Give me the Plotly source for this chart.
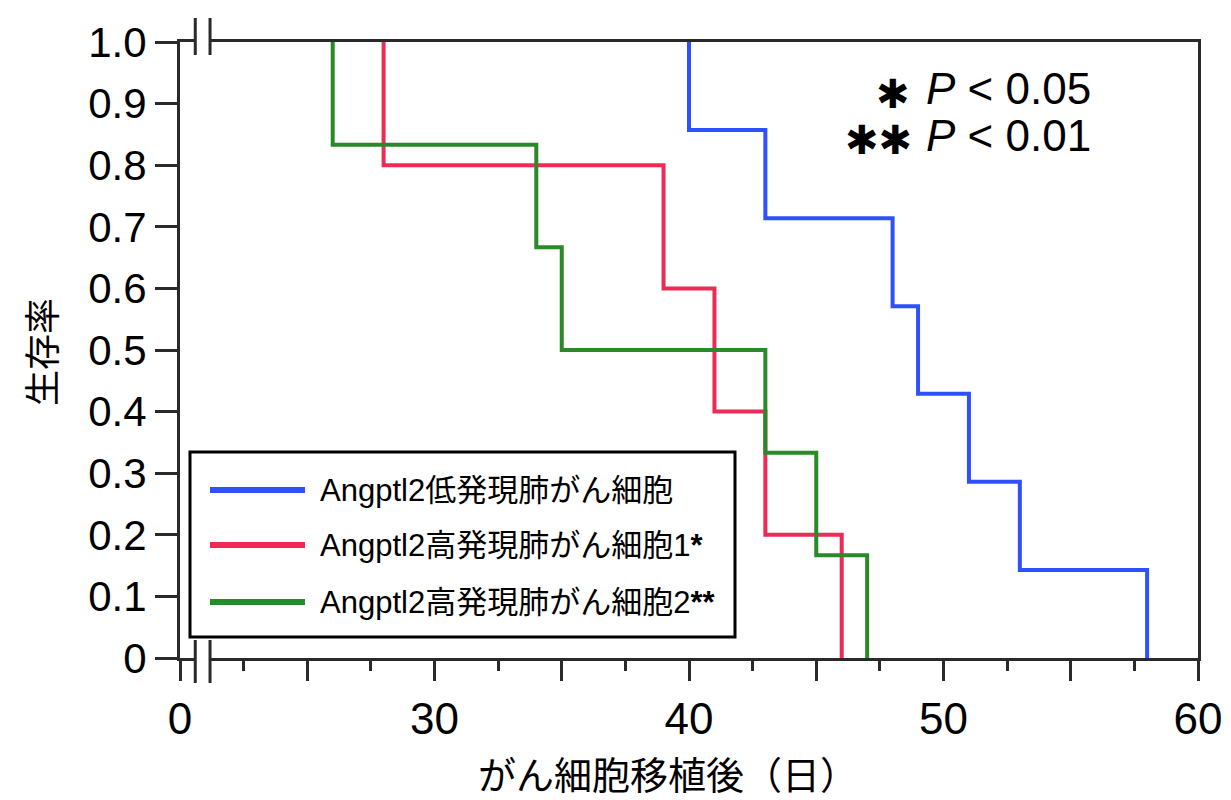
import plotly.graph_objects as go

# ---- data ----
series_names = ["Angptl2低発現肺がん細胞", "Angptl2高発現肺がん細胞1<b>*</b>", "Angptl2高発現肺がん細胞2<b>**</b>"]
blue_times = [40, 43, 48, 49, 51, 53, 58]
blue_surv = [0.857, 0.714, 0.571, 0.429, 0.286, 0.143, 0.0]
red_times = [28, 39, 41, 43, 46]
red_surv = [0.8, 0.6, 0.4, 0.2, 0.0]
green_times = [26, 34, 35, 43, 45, 47]
green_surv = [0.833, 0.667, 0.5, 0.333, 0.167, 0.0]

x_tickvals = [20, 25, 30, 35, 40, 45, 50, 55, 60]
x_ticktext = ["0", "", "30", "", "40", "", "50", "", "60"]
x_minor = [22.5, 27.5, 32.5, 37.5, 42.5, 47.5, 52.5, 57.5]
y_tickvals = [0, 0.1, 0.2, 0.3, 0.4, 0.5, 0.6, 0.7, 0.8, 0.9, 1.0]
y_ticktext = ["0", "0.1", "0.2", "0.3", "0.4", "0.5", "0.6", "0.7", "0.8", "0.9", "1.0"]

colors = ["#2f50ff", "#ee2a55", "#2a8a2a"]
FONT = "Liberation Sans, Arial, Noto Sans CJK JP, sans-serif"

fig = go.Figure()
for name, times, surv, col in zip(series_names, [blue_times, red_times, green_times],
                                  [blue_surv, red_surv, green_surv], colors):
    xs = [times[0]] + list(times)
    ys = [1.0] + list(surv)
    fig.add_trace(go.Scatter(x=xs, y=ys, mode="lines", line=dict(color=col, width=4, shape="hv"),
                             name=name, showlegend=False))

# page body has an 8px margin -> compensate so the frame lands at x 180..1198, y 42..658
OFF = 8
axis_col = "#2a2a2a"
fig.update_layout(
    width=1231, height=800,
    margin=dict(l=180 - OFF, r=33 + OFF, t=42 - OFF, b=142 + OFF),
    plot_bgcolor="white", paper_bgcolor="white",
    font=dict(family=FONT, color="black"),
    xaxis=dict(range=[20, 60], tickvals=x_tickvals, ticktext=x_ticktext, ticks="outside",
               ticklen=20, tickwidth=3, tickcolor=axis_col, showline=True, linewidth=3,
               linecolor=axis_col, mirror=True, showgrid=False, zeroline=False,
               tickfont=dict(size=44, family=FONT, color="black"),
               minor=dict(tickvals=x_minor, ticks="outside", ticklen=10, tickwidth=3, tickcolor=axis_col)),
    yaxis=dict(range=[0, 1], tickvals=y_tickvals, ticktext=y_ticktext, ticks="outside",
               ticklen=22, tickwidth=3, tickcolor=axis_col, showline=True, linewidth=3,
               linecolor=axis_col, mirror=True, showgrid=False, zeroline=False,
               tickfont=dict(size=42, family=FONT, color="black")),
)

def px2x(p):
    return (p - 180) / 1018.0

def px2y(q):
    return (658 - q) / 616.0

def note(text, px, py, size, family=FONT, xanchor="center", angle=0):
    return dict(text=text, x=px2x(px), y=px2y(py), xref="paper", yref="paper", xanchor=xanchor,
                yanchor="middle", textangle=angle, showarrow=False,
                font=dict(size=size, family=family, color="black"))

ann = []
# axis titles
ann.append(note("がん細胞移植後（日）", 668, 772, 38, "Noto Sans CJK JP"))
ann.append(note("生存率", 40, 352, 36, "Noto Sans CJK JP", angle=-90))
# significance notes
ann.append(note("✱", 912, 94, 40, "DejaVu Sans", xanchor="right"))
ann.append(note("<i>P</i> &lt; 0.05", 924, 88, 44, xanchor="left"))
ann.append(note("✱✱", 914, 140, 40, "DejaVu Sans", xanchor="right"))
ann.append(note("<i>P</i> &lt; 0.01", 924, 135, 44, xanchor="left"))

shapes = []
# manual legend
shapes.append(dict(type="rect", xref="paper", yref="paper", x0=px2x(190), x1=px2x(735),
                   y0=px2y(637), y1=px2y(452), line=dict(color="black", width=3),
                   fillcolor="white", layer="above"))
leg_y = [490, 545, 602]
for name, col, yy in zip(series_names, colors, leg_y):
    shapes.append(dict(type="line", xref="paper", yref="paper", x0=px2x(210), x1=px2x(305),
                       y0=px2y(yy), y1=px2y(yy), line=dict(color=col, width=6), layer="above"))
    ann.append(note(name, 318, yy, 31, xanchor="left"))

# axis break marks (top and bottom)
bx = [20.6, 21.18]
for (yc, ya, yb) in [(1.0, px2y(18), px2y(55)), (0.0, px2y(640), px2y(683))]:
    shapes.append(dict(type="rect", xref="x", yref="paper", x0=bx[0], x1=bx[1],
                       y0=yc - 4 / 616, y1=yc + 4 / 616, line=dict(width=0), fillcolor="white",
                       layer="above"))
    for b in bx:
        shapes.append(dict(type="line", xref="x", yref="paper", x0=b, x1=b, y0=ya, y1=yb,
                           line=dict(color=axis_col, width=3), layer="above"))

fig.update_layout(annotations=ann, shapes=shapes)
fig.write_html("out.html")
